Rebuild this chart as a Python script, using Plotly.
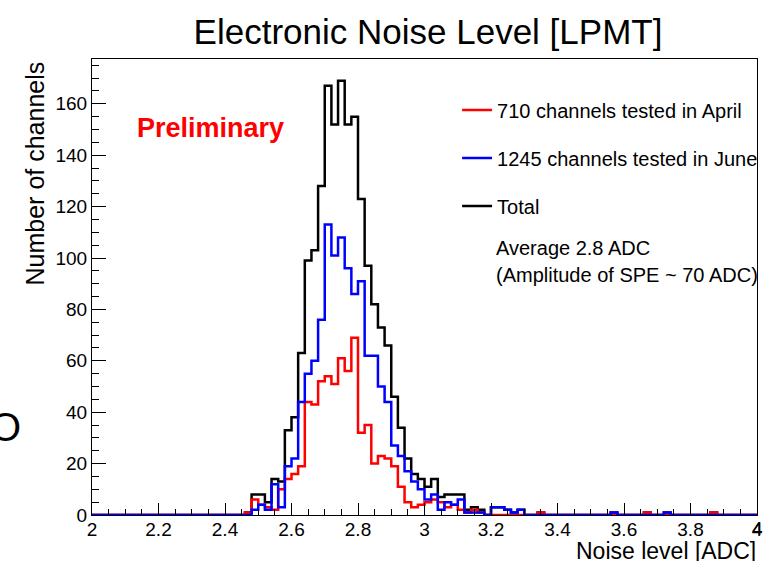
import plotly.graph_objects as go

# Histogram binning (100 bins from 2.0 to 4.0 ADC)
x_min = 2.0
x_max = 4.0
bin_width = 0.02

# Counts per bin
april = [
    0, 0, 0, 0, 0, 0, 0, 0, 0, 0,
    0, 0, 0, 0, 0, 0, 0, 0, 0, 0,
    0, 0, 0, 1, 6, 4, 3, 2, 10, 14,
    16, 19, 44, 43, 52, 54, 51, 61, 56, 69,
    32, 35, 20, 23, 22, 19, 11, 5, 3, 4,
    5, 6, 5, 3, 4, 2, 1, 2, 1, 0,
    0, 0, 0, 0, 0, 0, 0, 1, 0, 0,
    0, 0, 0, 0, 0, 0, 0, 0, 0, 0,
    0, 0, 0, 1, 0, 0, 0, 0, 0, 0,
    0, 0, 0, 1, 0, 0, 0, 0, 0, 0,
]
june = [
    0, 0, 0, 0, 0, 0, 0, 0, 0, 0,
    0, 0, 0, 0, 0, 0, 0, 0, 0, 0,
    0, 0, 0, 0, 2, 4, 2, 12, 3, 19,
    22, 44, 55, 60, 76, 113, 101, 108, 96, 86,
    91, 62, 62, 50, 44, 27, 23, 17, 13, 10,
    6, 8, 2, 5, 4, 6, 1, 1, 1, 0,
    3, 3, 2, 1, 2, 0, 0, 0, 0, 0,
    0, 0, 0, 0, 0, 0, 0, 0, 1, 0,
    0, 0, 0, 0, 0, 0, 1, 0, 0, 0,
    0, 0, 0, 0, 0, 0, 0, 0, 0, 0,
]
total = [
    0, 0, 0, 0, 0, 0, 0, 0, 0, 0,
    0, 0, 0, 0, 0, 0, 0, 0, 0, 0,
    0, 0, 0, 1, 8, 8, 5, 14, 13, 33,
    38, 63, 99, 103, 128, 167, 152, 169, 152, 155,
    123, 97, 82, 73, 66, 46, 34, 22, 16, 14,
    11, 14, 7, 8, 8, 8, 2, 3, 2, 0,
    3, 3, 2, 1, 2, 0, 0, 1, 0, 0,
    0, 0, 0, 0, 0, 0, 0, 0, 1, 0,
    0, 0, 0, 1, 0, 0, 1, 0, 0, 0,
    0, 0, 0, 1, 0, 0, 0, 0, 0, 0,
]

series_names = [
    "710 channels tested in April",
    "1245 channels tested in June",
    "Total",
]
note_lines = ["Average 2.8 ADC", "(Amplitude of SPE ~ 70 ADC)"]

FONT = "Liberation Sans, Arial, Helvetica, sans-serif"

n_bins = len(total)
edges = [x_min + bin_width * i for i in range(n_bins + 1)]


def step(counts):
    return edges, list(counts) + [counts[-1]]


fig = go.Figure()
for counts, name, color, rank, grp in [
    (total, series_names[2], "black", 3, "c"),
    (april, series_names[0], "red", 1, "a"),
    (june, series_names[1], "blue", 2, "b"),
]:
    xs, ys = step(counts)
    fig.add_trace(go.Scatter(
        x=xs, y=ys, mode="lines", name=name,
        line=dict(color=color, width=2.5, shape="hv"),
        legendrank=rank, legendgroup=grp,
        hoverinfo="skip",
    ))

ymax = 1.05 * max(total)

fig.update_layout(
    width=766, height=563,
    margin=dict(l=92, r=3, t=59, b=48),
    paper_bgcolor="white", plot_bgcolor="white",
    font=dict(family=FONT, color="black"),
    title=dict(
        text="Electronic Noise Level [LPMT]",
        x=428 / 766, xref="container", xanchor="center",
        y=1 - 32 / 563, yref="container", yanchor="middle",
        font=dict(size=35, family=FONT, color="black"),
    ),
    showlegend=True,
    legend=dict(
        x=0.549, xanchor="left", y=0.931, yanchor="top",
        font=dict(size=20, family=FONT, color="black"),
        bgcolor="rgba(0,0,0,0)", tracegroupgap=19,
        traceorder="grouped",
    ),
    xaxis=dict(
        range=[x_min, x_max], showgrid=False, zeroline=False,
        showline=True, linecolor="black", linewidth=1, mirror=True,
        ticks="inside", ticklen=12, tickwidth=1, tickcolor="black",
        dtick=0.2, tick0=2.0, tickformat="~g", ticklabelstandoff=-3,
        minor=dict(ticks="inside", ticklen=6, dtick=0.05, tick0=2.0,
                   tickcolor="black", showgrid=False),
        tickfont=dict(size=19, family=FONT),
    ),
    yaxis=dict(
        range=[0, ymax], showgrid=False, zeroline=False,
        showline=True, linecolor="black", linewidth=1, mirror=True,
        ticks="inside", ticklen=14, tickwidth=1, tickcolor="black",
        dtick=20, tick0=0,
        minor=dict(ticks="inside", ticklen=7, dtick=5, tick0=0,
                   tickcolor="black", showgrid=False),
        tickfont=dict(size=19, family=FONT),
    ),
)

annotations = [
    dict(text="Number of channels", textangle=-90, xref="paper", yref="paper",
         x=-0.085, y=1.0, xanchor="center", yanchor="top", showarrow=False,
         font=dict(size=25, family=FONT, color="black")),
    dict(text="Noise level [ADC]", xref="paper", yref="paper",
         x=1.0, y=-(562 - 515) / 456, xanchor="right", yanchor="bottom",
         showarrow=False, borderpad=0, height=20, valign="middle",
         font=dict(size=23, family=FONT, color="black")),
    dict(text="4", xref="x", yref="paper", x=x_max, y=0, yshift=-1,
         xanchor="center", yanchor="top", showarrow=False,
         font=dict(size=19, family=FONT, color="black")),
    dict(text="<b>Preliminary</b>", xref="paper", yref="paper",
         x=0.064, y=0.849, xanchor="left", yanchor="middle", showarrow=False,
         font=dict(size=27, family=FONT, color="red")),
    dict(text=note_lines[0], xref="paper", yref="paper",
         x=(498 - 92) / 671, y=(515 - 248) / 456, xanchor="left", yanchor="middle",
         showarrow=False, font=dict(size=20, family=FONT, color="black")),
    dict(text=note_lines[1], xref="paper", yref="paper",
         x=(498 - 92) / 671, y=(515 - 275) / 456, xanchor="left", yanchor="middle",
         showarrow=False, font=dict(size=20, family=FONT, color="black")),
    dict(text="O", xref="paper", yref="paper",
         x=(22 - 92) / 671, y=(515 - 427) / 456, xanchor="right", yanchor="middle",
         showarrow=False, font=dict(size=40, family=FONT, color="black")),
]
fig.update_layout(annotations=annotations)

fig.write_html("out.html")
